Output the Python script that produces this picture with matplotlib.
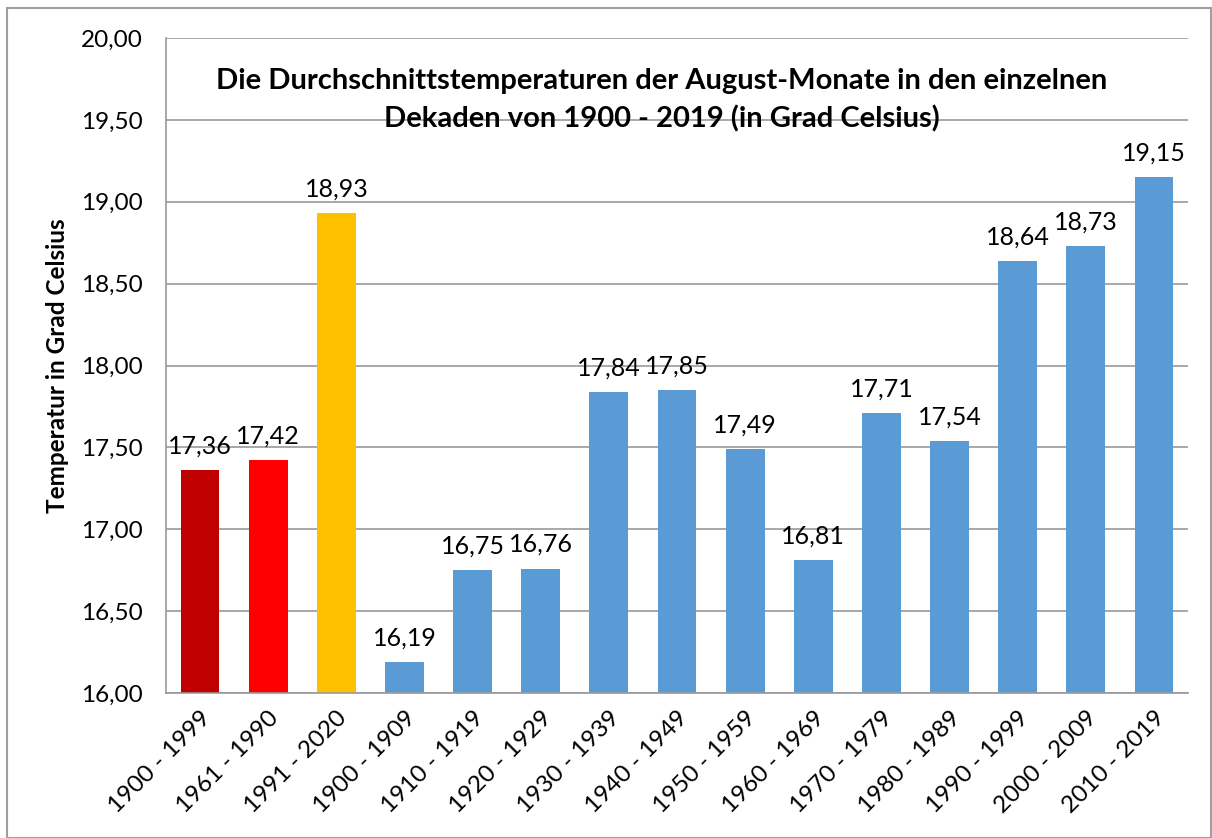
import matplotlib
matplotlib.use("Agg")
import matplotlib.pyplot as plt
from matplotlib.patches import Rectangle

categories = ["1900 - 1999", "1961 - 1990", "1991 - 2020", "1900 - 1909", "1910 - 1919",
              "1920 - 1929", "1930 - 1939", "1940 - 1949", "1950 - 1959", "1960 - 1969",
              "1970 - 1979", "1980 - 1989", "1990 - 1999", "2000 - 2009", "2010 - 2019"]
values = [17.36, 17.42, 18.93, 16.19, 16.75, 16.76, 17.84, 17.85, 17.49, 16.81,
          17.71, 17.54, 18.64, 18.73, 19.15]
colors = ["#C00000", "#FF0000", "#FFC000"] + ["#5B9BD5"] * 12
yticks = [16.0, 16.5, 17.0, 17.5, 18.0, 18.5, 19.0, 19.5, 20.0]
title = "Die Durchschnittstemperaturen der August-Monate in den einzelnen\nDekaden von 1900 - 2019 (in Grad Celsius)"
ylabel = "Temperatur in Grad Celsius"

plt.rcParams['font.family'] = ['Lato', 'DejaVu Sans']

fig = plt.figure(figsize=(12.12, 8.38), dpi=100)
W, H = 1212, 838
ax = fig.add_axes([166 / W, 1 - 693 / H, (1188 - 166) / W, (693 - 38) / H])

x = range(len(categories))
ax.bar(x, values, width=0.57, color=colors, bottom=0, zorder=3)
ax.set_ylim(16, 20)
ax.set_xlim(-0.5, len(categories) - 0.5)
ax.set_yticks(yticks)
ax.set_yticklabels([f"{v:.2f}".replace(".", ",") for v in yticks], fontsize=17.5)
ax.set_xticks(list(x))
ax.set_xticklabels(categories, rotation=45, ha="right", rotation_mode="anchor", fontsize=17.5)
ax.tick_params(axis="x", length=0, pad=10)
ax.tick_params(axis="y", length=0, pad=17)
ax.grid(axis="y", color="#999999", linewidth=1.2, zorder=0)
for s in ["top", "right"]:
    ax.spines[s].set_visible(False)
for s in ["left", "bottom"]:
    ax.spines[s].set_color("#999999")
    ax.spines[s].set_linewidth(1.2)
    ax.spines[s].set_zorder(4)

for xi, v in zip(x, values):
    ax.annotate(f"{v:.2f}".replace(".", ","), (xi, v), xytext=(0, 9),
                textcoords="offset points", ha="center", va="bottom", fontsize=18)

ax.set_ylabel(ylabel, fontsize=17.5, fontweight="bold", labelpad=8)
ax.text(0.485, 0.905, title, transform=ax.transAxes, ha="center", va="center",
        fontsize=21, fontweight="bold", linespacing=1.55)

fig.patches.append(Rectangle((7 / W, 0), 1 - 7 / W - 0.001, 1 - 8 / H,
                             transform=fig.transFigure, fill=False,
                             edgecolor="#A0A0A0", linewidth=1.5))

fig.savefig("out.png", dpi=100)
